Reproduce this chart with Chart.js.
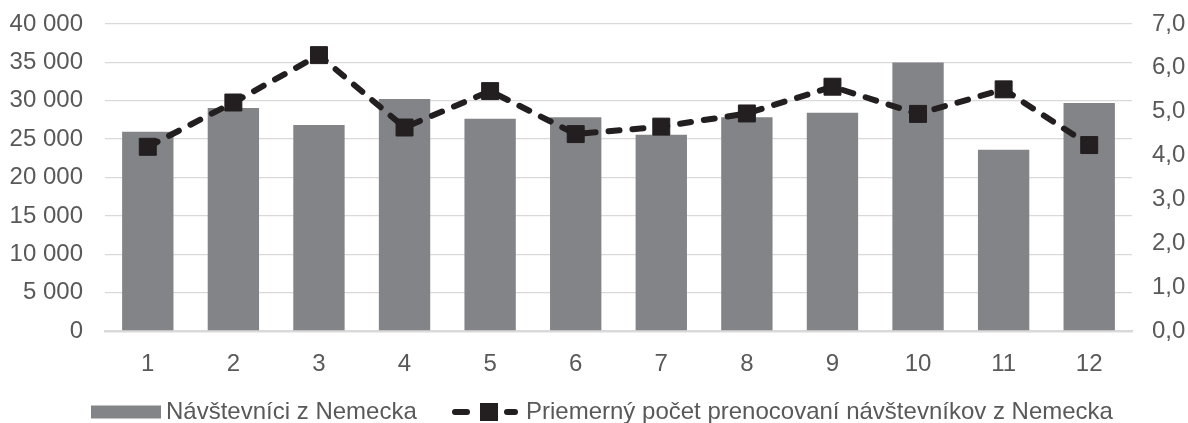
<!DOCTYPE html>
<html>
<head>
<meta charset="utf-8">
<script src="https://cdn.jsdelivr.net/npm/chart.js@4.4.0/dist/chart.umd.min.js"></script>
<style>
  html, body { margin: 0; padding: 0; background: #ffffff; overflow: hidden; }
  #wrap { width: 1188px; height: 423px; }
</style>
</head>
<body>
<div id="wrap"><canvas id="chart" width="1188" height="423"></canvas></div>
<script>
// Months of the year
const months = ['1', '2', '3', '4', '5', '6', '7', '8', '9', '10', '11', '12'];
// Visitors from Germany per month
const visitors = [25970, 29060, 26840, 30230, 27670, 27840, 25580, 27850, 28450, 35000, 23630, 29710];
// Average number of overnight stays of visitors from Germany
const avgNights = [4.20, 5.21, 6.29, 4.64, 5.47, 4.49, 4.66, 4.96, 5.57, 4.95, 5.51, 4.24];
// Axis tick labels
const leftTickLabels = ['0', '5 000', '10 000', '15 000', '20 000', '25 000', '30 000', '35 000', '40 000'];
const rightTickLabels = ['0,0', '1,0', '2,0', '3,0', '4,0', '5,0', '6,0', '7,0'];
// Series names
const seriesNames = ['Návštevníci z Nemecka', 'Priemerný počet prenocovaní návštevníkov z Nemecka'];

const FONT_FAMILY = '"Liberation Sans", Arial, sans-serif';
const FONT_SIZE = 24;
const TEXT_COLOR = '#595959';
const BAR_COLOR = '#838487';
const LINE_COLOR = '#231f20';

// Legend drawn below the plot: a bar swatch and a dashed line with a square marker
const bottomLegend = {
  id: 'bottomLegend',
  afterDraw(chart) {
    const ctx = chart.ctx;
    const cy = 412;
    ctx.save();
    ctx.font = FONT_SIZE + 'px ' + FONT_FAMILY;
    ctx.textBaseline = 'middle';
    ctx.textAlign = 'left';

    // bar series
    ctx.fillStyle = BAR_COLOR;
    ctx.fillRect(91, cy - 6.5, 70, 13);
    ctx.fillStyle = TEXT_COLOR;
    ctx.fillText(chart.data.datasets[1].label, 166, cy);

    // line series
    ctx.strokeStyle = LINE_COLOR;
    ctx.lineWidth = 6;
    ctx.lineCap = 'round';
    ctx.beginPath();
    ctx.moveTo(455, cy); ctx.lineTo(467, cy);
    ctx.moveTo(507, cy); ctx.lineTo(515, cy);
    ctx.stroke();
    ctx.fillStyle = LINE_COLOR;
    ctx.fillRect(480, cy - 9, 18, 18);
    ctx.fillStyle = TEXT_COLOR;
    ctx.fillText(chart.data.datasets[0].label, 526, cy);
    ctx.restore();
  }
};

// Vertical axes: fixed width, no extra padding reserved for the end labels
function fixVertical(width) {
  return function (scale) {
    scale.width = width;
    scale.paddingTop = 0;
    scale.paddingBottom = 0;
  };
}

new Chart(document.getElementById('chart'), {
  type: 'bar',
  data: {
    labels: months,
    datasets: [
      {
        type: 'line',
        label: seriesNames[1],
        data: avgNights,
        yAxisID: 'y1',
        order: 0,
        borderColor: LINE_COLOR,
        borderWidth: 6,
        borderDash: [11, 13],
        borderCapStyle: 'round',
        tension: 0,
        fill: false,
        pointStyle: 'rect',
        pointRadius: 12,
        pointBackgroundColor: LINE_COLOR,
        pointBorderColor: LINE_COLOR,
        pointBorderWidth: 1
      },
      {
        type: 'bar',
        label: seriesNames[0],
        data: visitors,
        yAxisID: 'y',
        order: 1,
        backgroundColor: BAR_COLOR,
        borderWidth: 0,
        barPercentage: 0.6,
        categoryPercentage: 1.0
      }
    ]
  },
  options: {
    responsive: false,
    animation: false,
    devicePixelRatio: 1,
    layout: { padding: { top: 24, bottom: 42, left: 0, right: 0 } },
    plugins: {
      legend: { display: false },
      tooltip: { enabled: false }
    },
    scales: {
      x: {
        grid: { display: false, drawTicks: false },
        border: { display: true, color: '#d9d9d9', width: 2.5 },
        ticks: {
          color: TEXT_COLOR,
          font: { family: FONT_FAMILY, size: FONT_SIZE },
          padding: 19,
          maxRotation: 0
        },
        afterFit(scale) {
          scale.height = 50;
          scale.paddingLeft = 0;
          scale.paddingRight = 0;
        }
      },
      y: {
        position: 'left',
        min: 0,
        max: 40000,
        grid: { color: '#d9d9d9', lineWidth: 1.3, drawTicks: false },
        border: { display: false },
        ticks: {
          stepSize: 5000,
          color: TEXT_COLOR,
          font: { family: FONT_FAMILY, size: FONT_SIZE },
          padding: 22,
          callback: (v, i) => leftTickLabels[i]
        },
        afterFit: fixVertical(105)
      },
      y1: {
        position: 'right',
        min: 0,
        max: 7,
        grid: { display: false, drawTicks: false },
        border: { display: false },
        ticks: {
          stepSize: 1,
          color: TEXT_COLOR,
          font: { family: FONT_FAMILY, size: FONT_SIZE },
          padding: 20,
          callback: (v, i) => rightTickLabels[i]
        },
        afterFit: fixVertical(56)
      }
    }
  },
  plugins: [bottomLegend]
});
</script>
</body>
</html>
